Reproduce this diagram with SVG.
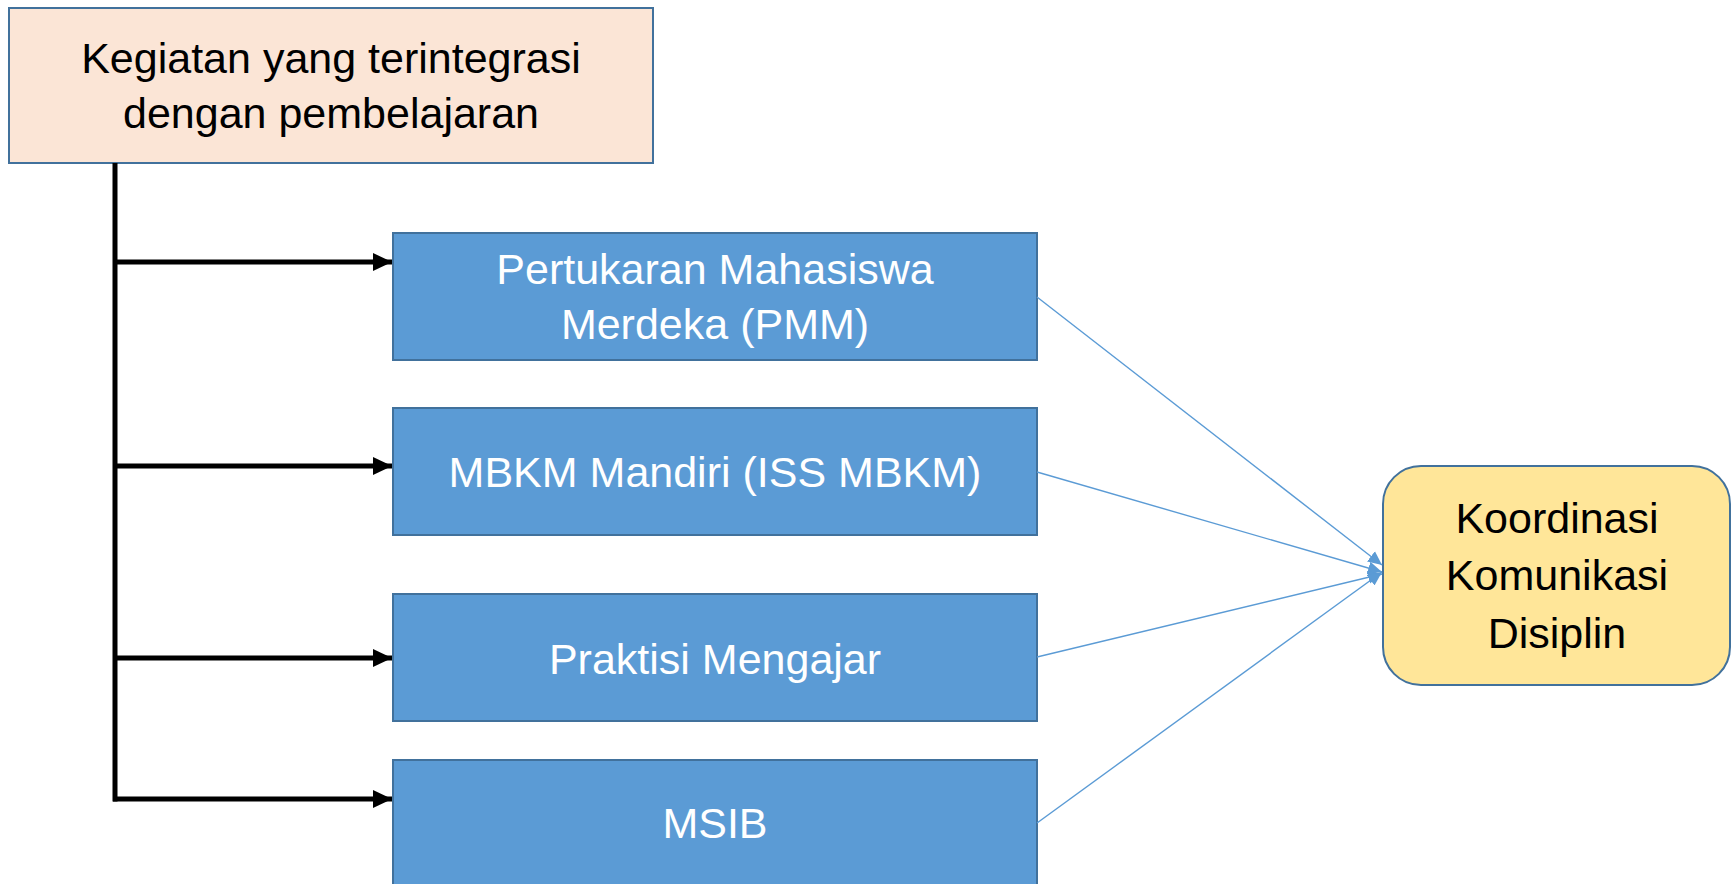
<svg xmlns="http://www.w3.org/2000/svg" width="1735" height="884" viewBox="0 0 1735 884">
<style>
  .txt { font-family: "Liberation Sans", Arial, sans-serif; font-size: 43px; text-anchor: middle; }
  .w { fill: #FFFFFF; }
  .k { fill: #000000; }
  .blue { fill: #5B9BD5; stroke: #41719C; stroke-width: 2; }
  .black { stroke: #000000; stroke-width: 5; fill: none; }
  .thin { stroke: #5B9BD5; stroke-width: 1.4; fill: none; }
</style>
<defs>
  <marker id="ab" markerUnits="userSpaceOnUse" markerWidth="20" markerHeight="20" refX="19" refY="10" orient="auto">
    <path d="M0,1 L19,10 L0,19 z" fill="#000000"/>
  </marker>
  <marker id="abl" markerUnits="userSpaceOnUse" markerWidth="14" markerHeight="14" refX="14" refY="7" orient="auto">
    <path d="M0,0.5 L14,7 L0,13.5 z" fill="#5B9BD5"/>
  </marker>
</defs>
<rect width="1735" height="884" fill="#FFFFFF"/>

<g id="node-kegiatan">
  <rect x="9" y="8" width="644" height="155" fill="#FBE5D6" stroke="#41719C" stroke-width="2"/>
  <text class="txt k" x="331" y="73">Kegiatan yang terintegrasi</text>
  <text class="txt k" x="331" y="128">dengan pembelajaran</text>
</g>

<g id="node-pmm">
  <rect class="blue" x="393" y="233" width="644" height="127"/>
  <text class="txt w" x="715" y="284">Pertukaran Mahasiswa</text>
  <text class="txt w" x="715" y="339">Merdeka (PMM)</text>
</g>

<g id="node-mbkm">
  <rect class="blue" x="393" y="408" width="644" height="127"/>
  <text class="txt w" x="715" y="487">MBKM Mandiri (ISS MBKM)</text>
</g>

<g id="node-praktisi">
  <rect class="blue" x="393" y="594" width="644" height="127"/>
  <text class="txt w" x="715" y="674">Praktisi Mengajar</text>
</g>

<g id="node-msib">
  <rect class="blue" x="393" y="760" width="644" height="130"/>
  <text class="txt w" x="715" y="838">MSIB</text>
</g>

<g id="node-koordinasi">
  <rect x="1383" y="466" width="347" height="219" rx="38" ry="38" fill="#FFE699" stroke="#41719C" stroke-width="2"/>
  <text class="txt k" x="1557" y="533">Koordinasi</text>
  <text class="txt k" x="1557" y="590">Komunikasi</text>
  <text class="txt k" x="1557" y="648">Disiplin</text>
</g>

<g id="connectors">
  <line class="black" x1="115" y1="163" x2="115" y2="801.5"/>
  <line class="black" x1="113" y1="262" x2="392" y2="262" marker-end="url(#ab)"/>
  <line class="black" x1="113" y1="466" x2="392" y2="466" marker-end="url(#ab)"/>
  <line class="black" x1="113" y1="658" x2="392" y2="658" marker-end="url(#ab)"/>
  <line class="black" x1="113" y1="799" x2="392" y2="799" marker-end="url(#ab)"/>
  <line class="thin" x1="1037" y1="297" x2="1382" y2="565" marker-end="url(#abl)"/>
  <line class="thin" x1="1037" y1="472" x2="1382" y2="572" marker-end="url(#abl)"/>
  <line class="thin" x1="1037" y1="657" x2="1382" y2="574" marker-end="url(#abl)"/>
  <line class="thin" x1="1037" y1="823" x2="1382" y2="572" marker-end="url(#abl)"/>
</g>
</svg>
